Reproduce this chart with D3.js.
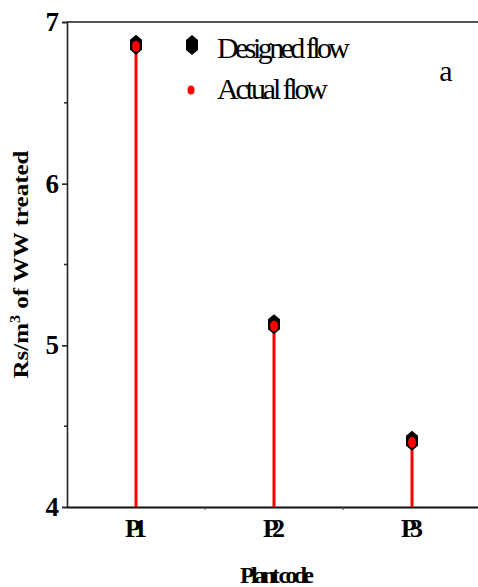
<!DOCTYPE html>
<html>
<head>
<meta charset="utf-8">
<script src="https://cdn.jsdelivr.net/npm/d3@7"></script>
<style>
  body { margin: 0; background: #fff; }
  svg { display: block; }
</style>
</head>
<body>
<div id="chart"></div>
<script>
// plant codes and cost per m3 of treated wastewater
var plants = ["P1", "P2", "P3"];
var designedFlow = [6.86, 5.13, 4.41];
var actualFlow = [6.85, 5.12, 4.40];
var yTicks = [4, 5, 6, 7];
var yMinorTicks = [4.5, 5.5, 6.5];

var serif = "'Liberation Serif', 'Times New Roman', serif";
var width = 478, height = 587;
var margin = { top: 22, right: -3, bottom: 80, left: 67 };

var svg = d3.select("#chart")
  .append("svg")
  .attr("width", width)
  .attr("height", height)
  .style("font-family", serif);

var x = d3.scaleBand()
  .domain(plants)
  .range([margin.left, width - margin.right])
  .paddingInner(0)
  .paddingOuter(0);

var y = d3.scaleLinear()
  .domain([4, 7])
  .range([height - margin.bottom, margin.top]);

// top frame line
svg.append("line")
  .attr("x1", margin.left).attr("x2", width)
  .attr("y1", y(7)).attr("y2", y(7))
  .style("stroke", "#555")
  .style("stroke-width", 2);

// y axis
var yAxis = svg.append("g")
  .attr("transform", "translate(" + margin.left + ",0)")
  .call(d3.axisLeft(y).tickValues(yTicks).tickFormat(d3.format("d")).tickSize(5).tickPadding(3));
yAxis.select(".domain").style("stroke", "#222").style("stroke-width", 1.6);
yAxis.selectAll(".tick line").style("stroke", "#222").style("stroke-width", 1.6);
yAxis.selectAll("text")
  .style("font-family", serif)
  .style("font-size", "27px")
  .style("font-weight", "bold")
  .attr("fill", "#000");

svg.append("g")
  .selectAll("line")
  .data(yMinorTicks)
  .enter()
  .append("line")
  .attr("x1", margin.left - 3).attr("x2", margin.left)
  .attr("y1", d => y(d)).attr("y2", d => y(d))
  .style("stroke", "#222")
  .style("stroke-width", 1.5);

// x axis
var xAxis = svg.append("g")
  .attr("transform", "translate(0," + y(4) + ")")
  .call(d3.axisBottom(x).tickSize(0).tickPadding(12));
xAxis.select(".domain").style("stroke", "#111").style("stroke-width", 2);
xAxis.selectAll("text")
  .style("font-family", serif)
  .style("font-size", "26px")
  .style("font-weight", "bold")
  .attr("fill", "#000")
  .attr("textLength", 22)
  .attr("lengthAdjust", "spacing");

// small ticks between categories
svg.append("g")
  .selectAll("line")
  .data(plants.slice(1))
  .enter()
  .append("line")
  .attr("x1", d => x(d)).attr("x2", d => x(d))
  .attr("y1", y(4)).attr("y2", y(4) + 3)
  .style("stroke", "#444")
  .style("stroke-width", 1);

// axis titles
svg.append("text")
  .attr("transform", "translate(28," + ((y(4) + y(7)) / 2) + ") rotate(-90)")
  .attr("text-anchor", "middle")
  .style("font-family", serif)
  .style("font-size", "22px")
  .style("font-weight", "bold")
  .attr("textLength", 228)
  .attr("lengthAdjust", "spacingAndGlyphs")
  .html("Rs/m<tspan dy='-8' font-size='14'>3</tspan><tspan dy='8'> of WW treated</tspan>");

svg.append("text")
  .attr("x", 277)
  .attr("y", 583)
  .attr("text-anchor", "middle")
  .style("font-family", serif)
  .style("font-size", "24px")
  .style("font-weight", "bold")
  .attr("textLength", 74)
  .attr("lengthAdjust", "spacing")
  .text("Plant code");

// stems for actual flow
svg.append("g")
  .selectAll("line")
  .data(actualFlow)
  .enter()
  .append("line")
  .attr("x1", (d, i) => x(plants[i]) + x.bandwidth() / 2)
  .attr("x2", (d, i) => x(plants[i]) + x.bandwidth() / 2)
  .attr("y1", y(4))
  .attr("y2", d => y(d))
  .style("stroke", "#ff0000")
  .style("stroke-width", 3);

function hexPath(w, h) {
  return "M0," + (-h) + "L" + w + "," + (-h / 2) + "L" + w + "," + (h / 2) +
    "L0," + h + "L" + (-w) + "," + (h / 2) + "L" + (-w) + "," + (-h / 2) + "Z";
}

// designed flow markers
svg.append("g")
  .selectAll("path")
  .data(designedFlow)
  .enter()
  .append("path")
  .attr("transform", (d, i) => "translate(" + (x(plants[i]) + x.bandwidth() / 2) + "," + y(d) + ")")
  .attr("d", hexPath(6, 10))
  .attr("fill", "#000");

// actual flow markers
svg.append("g")
  .selectAll("ellipse")
  .data(actualFlow)
  .enter()
  .append("ellipse")
  .attr("cx", (d, i) => x(plants[i]) + x.bandwidth() / 2)
  .attr("cy", d => y(d))
  .attr("rx", 4)
  .attr("ry", 5.5)
  .attr("fill", "#ff0000");

// legend
var legend = svg.append("g");
legend.append("path")
  .attr("transform", "translate(192,45)")
  .attr("d", hexPath(6, 10))
  .attr("fill", "#000");
legend.append("text")
  .attr("x", 217).attr("y", 58)
  .attr("font-family", serif)
  .attr("font-size", 30)
  .attr("textLength", 133)
  .attr("lengthAdjust", "spacing")
  .text("Designed flow");
legend.append("ellipse")
  .attr("cx", 191).attr("cy", 90)
  .attr("rx", 3.5).attr("ry", 4.5)
  .attr("fill", "#ff0000");
legend.append("text")
  .attr("x", 217).attr("y", 99)
  .attr("font-family", serif)
  .attr("font-size", 30)
  .attr("textLength", 111)
  .attr("lengthAdjust", "spacing")
  .text("Actual flow");

svg.append("text")
  .attr("x", 446).attr("y", 81)
  .attr("text-anchor", "middle")
  .attr("font-family", serif)
  .attr("font-size", 30)
  .text("a");
</script>
</body>
</html>
